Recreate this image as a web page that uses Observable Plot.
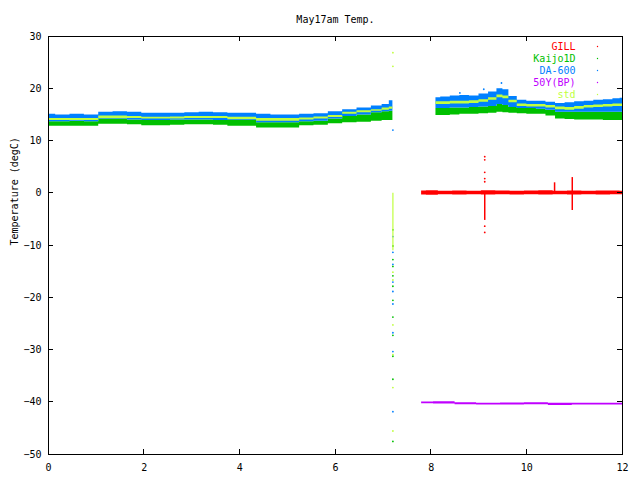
<!DOCTYPE html>
<html><head><meta charset="utf-8">
<script src="https://cdn.jsdelivr.net/npm/d3@7"></script>
<script src="https://cdn.jsdelivr.net/npm/@observablehq/plot@0.6"></script>
<style>body{margin:0;background:#fff}</style>
</head><body><div id="chart"></div>
<script>
const titleText = "May17am Temp.";
const yLabel = "Temperature (degC)";
const seriesNames = ["GILL", "Kaijo1D", "DA-600", "50Y(BP)", "std"];
const seriesColors = ["#ff0000", "#00c000", "#0080ff", "#c000ff", "#c0ff40"];
const xTicks = [0, 2, 4, 6, 8, 10, 12];
const yTicks = [-50, -40, -30, -20, -10, 0, 10, 20, 30];

// first block (0 - 7.2 h): band envelopes
const leftX      = [0, 0.3, 0.6, 0.9, 1.2, 1.5, 1.8, 2.1, 2.4, 2.7, 3.0, 3.3, 3.6, 3.9, 4.2, 4.5, 4.8, 5.1, 5.4, 5.7, 6.0, 6.3, 6.6, 6.9, 7.05, 7.2];
const leftBlueHi = [15.1, 15.0, 15.1, 15.0, 15.5, 15.6, 15.5, 15.3, 15.3, 15.3, 15.4, 15.5, 15.4, 15.3, 15.3, 15.1, 15.0, 15.0, 15.1, 15.2, 15.6, 16.0, 16.3, 16.7, 17.0, 17.7];
const leftStdHi  = [14.3, 14.3, 14.3, 14.3, 14.8, 14.8, 14.7, 14.55, 14.55, 14.6, 14.7, 14.7, 14.7, 14.55, 14.55, 14.3, 14.3, 14.3, 14.4, 14.6, 14.9, 15.5, 15.8, 16.0, 16.3, 16.5];
const leftStdLo  = [13.9, 13.9, 13.9, 13.9, 14.3, 14.3, 14.3, 14.2, 14.2, 14.2, 14.3, 14.3, 14.3, 14.05, 14.05, 13.8, 13.8, 13.8, 14.0, 14.2, 14.5, 15.1, 15.4, 15.7, 15.9, 16.1];
const leftGreenHi= [13.7, 13.7, 13.8, 13.7, 14.2, 14.2, 14.0, 13.9, 13.9, 14.0, 14.0, 14.0, 13.9, 13.9, 13.9, 13.5, 13.5, 13.5, 13.7, 13.8, 14.2, 14.7, 15.0, 15.4, 15.6, 15.7];
const leftGreenLo= [12.8, 12.8, 12.8, 12.8, 13.2, 13.2, 13.1, 12.9, 12.9, 13.0, 13.1, 13.1, 13.0, 12.8, 12.8, 12.5, 12.5, 12.5, 12.9, 13.0, 13.3, 13.5, 13.6, 13.8, 13.9, 13.9];

// second block (8.1 - 12 h)
const rightX      = [8.1, 8.3, 8.5, 8.7, 8.9, 9.1, 9.3, 9.45, 9.55, 9.7, 9.9, 10.1, 10.3, 10.5, 10.7, 10.9, 11.1, 11.3, 11.5, 11.7, 11.9, 12.0];
const rightBlueHi = [18.3, 18.4, 18.6, 18.7, 18.6, 19.0, 19.4, 20.0, 19.8, 18.5, 17.8, 17.6, 17.6, 17.4, 17.2, 17.3, 17.5, 17.6, 17.8, 17.9, 18.1, 18.2];
const rightStdHi  = [17.5, 17.5, 17.6, 17.6, 17.7, 17.9, 18.3, 18.8, 18.6, 17.8, 17.1, 17.0, 17.0, 16.8, 16.5, 16.4, 16.6, 16.8, 16.9, 17.0, 17.1, 17.1];
const rightStdLo  = [17.0, 17.0, 17.1, 17.1, 17.2, 17.4, 17.8, 18.3, 18.1, 17.3, 16.6, 16.5, 16.5, 16.3, 16.0, 15.9, 16.1, 16.3, 16.4, 16.5, 16.6, 16.6];
const rightGreenHi= [16.2, 16.2, 16.3, 16.3, 16.4, 16.5, 16.6, 17.0, 16.8, 16.4, 16.2, 16.2, 16.1, 15.9, 15.5, 15.5, 15.5, 15.5, 15.5, 15.5, 15.5, 15.5];
const rightGreenLo= [14.9, 14.9, 15.0, 15.1, 15.1, 15.2, 15.3, 15.5, 15.4, 15.3, 15.2, 15.1, 15.1, 14.8, 14.2, 14.1, 14.0, 14.0, 14.0, 13.9, 13.9, 13.9];

// GILL band and spikes
const gillX  = [7.8, 8.0, 8.3, 8.6, 8.9, 9.2, 9.5, 9.8, 10.1, 10.4, 10.7, 11.0, 11.3, 11.6, 11.9, 12.0];
const gillLo = [-0.35, -0.4, -0.3, -0.35, -0.3, -0.35, -0.3, -0.35, -0.3, -0.35, -0.3, -0.35, -0.3, -0.35, -0.3, -0.3];
const gillHi = [0.45, 0.5, 0.4, 0.45, 0.4, 0.5, 0.45, 0.4, 0.45, 0.5, 0.4, 0.45, 0.4, 0.45, 0.45, 0.4];
const gillSpikeX  = [9.12, 10.58, 10.95];
const gillSpikeLo = [-5.2, 0, -3.3];
const gillSpikeHi = [0, 2.0, 3.0];
const gillDotX = [9.12, 9.12, 9.12, 9.12, 9.12, 9.12, 9.12];
const gillDotY = [7.0, 6.4, 4.0, 2.8, 2.2, -6.3, -7.5];

// 50Y(BP) band
const bpX  = [7.8, 8.3, 8.7, 9.2, 9.7, 10.2, 10.7, 11.2, 11.7, 12.0];
const bpLo = [-40.3, -40.35, -40.5, -40.55, -40.55, -40.5, -40.6, -40.55, -40.55, -40.55];
const bpHi = [-39.95, -39.9, -40.1, -40.2, -40.15, -40.1, -40.2, -40.2, -40.2, -40.2];

// drop-outs at the gap (x = 7.2)
const dropX = 7.2;
const stdDrop = [0, -11];
const stdDots = [26.9, 24.3, -15.1, -16.6, -25.2, -30.9, -37.2, -45.5];
const greenDots = [-7.0, -10.1, -12.7, -14.0, -15.8, -17.8, -20.5, -23.7, -27.2, -31.2, -35.6, -47.5];
const blueDots = [12.1, -8.3, -11.3, -13.6, -17.0, -18.8, -21.2, -26.7, -30.3, -41.8];
const blueSpikeX = [9.47, 9.1, 8.6];
const blueSpikeY = [21.1, 19.9, 19.2];

const rows = (xs, lo, hi) => xs.map((x, i) => ({x, lo: lo[i], hi: hi[i]}));
const band = (xs, lo, hi, color) => Plot.areaY(rows(xs, lo, hi), {x: "x", y1: "lo", y2: "hi", curve: "step", fill: color});
const [cG, cK, cD, cB, cS] = seriesColors;
const font = "DejaVu Sans Mono";

const W = 640, H = 480, mL = 48, mR = 18, mT = 36, mB = 26, tick = 5;

const chart = Plot.plot({
  width: W, height: H,
  marginLeft: mL, marginRight: mR, marginTop: mT, marginBottom: mB,
  style: {fontFamily: font, fontSize: "10px", background: "#fff", color: "#000"},
  x: {domain: [0, 12], axis: null},
  y: {domain: [-50, 30], axis: null},
  marks: [
    // GILL
    band(gillX, gillLo, gillHi, cG),
    Plot.ruleX(gillSpikeX.map((x, i) => ({x, lo: gillSpikeLo[i], hi: gillSpikeHi[i]})), {x: "x", y1: "lo", y2: "hi", stroke: cG, strokeWidth: 1.5}),
    Plot.dot(gillDotX.map((x, i) => ({x, y: gillDotY[i]})), {x: "x", y: "y", r: 0.9, fill: cG}),
    // Kaijo1D
    band(leftX, leftGreenLo, leftGreenHi, cK),
    band(rightX, rightGreenLo, rightGreenHi, cK),
    Plot.dot(greenDots, {x: () => dropX, y: d => d, r: 0.9, fill: cK}),
    // DA-600
    band(leftX, leftGreenHi, leftBlueHi, cD),
    band(rightX, rightGreenHi, rightBlueHi, cD),
    Plot.dot(blueDots, {x: () => dropX, y: d => d, r: 0.9, fill: cD}),
    Plot.dot(blueSpikeX.map((x, i) => ({x, y: blueSpikeY[i]})), {x: "x", y: "y", r: 0.9, fill: cD}),
    // 50Y(BP)
    band(bpX, bpLo, bpHi, cB),
    // std
    band(leftX, leftStdLo, leftStdHi, cS),
    band(rightX, rightStdLo, rightStdHi, cS),
    Plot.ruleX([dropX], {y1: stdDrop[0], y2: stdDrop[1], stroke: cS, strokeWidth: 1.2}),
    Plot.dot(stdDots, {x: () => dropX, y: d => d, r: 0.9, fill: cS}),
    // frame & axis labels
    Plot.frame({stroke: "#000"}),
    Plot.axisX(xTicks, {anchor: "bottom", tickSize: 0, tickPadding: 9, label: null}),
    Plot.axisY(yTicks, {anchor: "left", tickSize: 0, tickPadding: 7, label: null}),
    // title & y label
    Plot.text([titleText], {frameAnchor: "top", dy: -17, lineAnchor: "middle", fontSize: 10}),
    Plot.text([yLabel], {frameAnchor: "left", dx: -34, rotate: -90, fontSize: 10}),
    // legend
    ...seriesNames.map((name, i) => Plot.text([name], {frameAnchor: "top-right", dx: -47, dy: 10 + 12 * i, lineAnchor: "middle", textAnchor: "end", fill: seriesColors[i], fontSize: 10})),
    ...seriesNames.map((name, i) => Plot.dot([name], {frameAnchor: "top-right", dx: -25, dy: 10 + 12 * i, r: 0.7, fill: seriesColors[i]}))
  ]
});

// gnuplot-style inward mirror ticks, positioned with Plot's own scales
const sx = chart.scale("x"), sy = chart.scale("y");
const svg = d3.select(chart.tagName.toLowerCase() === "svg" ? chart : chart.querySelector("svg"));
const g = svg.append("g").attr("stroke", "#000").attr("stroke-width", 1).attr("shape-rendering", "crispEdges");
const x0 = mL, x1 = W - mR, y0 = mT, y1 = H - mB;
for (const t of xTicks) {
  const px = sx.apply(t);
  g.append("line").attr("x1", px).attr("x2", px).attr("y1", y1).attr("y2", y1 - tick);
  g.append("line").attr("x1", px).attr("x2", px).attr("y1", y0).attr("y2", y0 + tick);
}
for (const t of yTicks) {
  const py = sy.apply(t);
  g.append("line").attr("y1", py).attr("y2", py).attr("x1", x0).attr("x2", x0 + tick);
  g.append("line").attr("y1", py).attr("y2", py).attr("x1", x1).attr("x2", x1 - tick);
}
document.getElementById("chart").appendChild(chart);
</script>
</body></html>
